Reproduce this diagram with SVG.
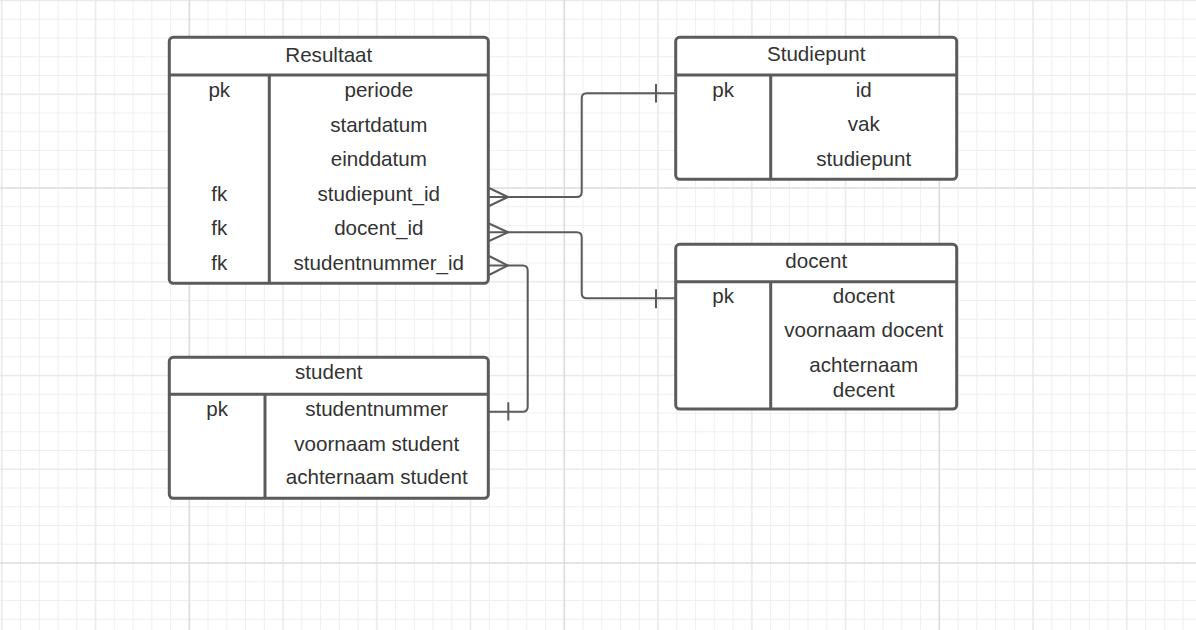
<svg xmlns="http://www.w3.org/2000/svg" width="1196" height="630" viewBox="0 0 1196 630">
<defs>
<style>
.box{fill:#ffffff;stroke:#5b5b5b;stroke-width:3}
.sep{fill:none;stroke:#5b5b5b;stroke-width:3}
.t{font-family:"Liberation Sans",Arial,sans-serif;font-size:20.6px;fill:#333333;text-anchor:middle}
.conn path{fill:none;stroke:#5b5b5b;stroke-width:2}
</style>
<pattern id="minor" patternUnits="userSpaceOnUse" x="-7.575" y="-8.875" width="18.75" height="18.75">
<path d="M9.375 0V18.75M0 9.375H18.75" stroke="#efefef" stroke-width="1" fill="none"/>
</pattern>
<pattern id="medium" patternUnits="userSpaceOnUse" x="-45.075" y="-46.375" width="93.75" height="93.75">
<path d="M46.875 0V93.75M0 46.875H93.75" stroke="#e5e5e5" stroke-width="1" fill="none"/>
</pattern>
</defs>
<g id="background">
<rect x="0" y="0" width="1196" height="630" fill="#ffffff"/>
<rect x="0" y="0" width="1196" height="630" fill="url(#minor)"/>
<rect x="0" y="0" width="1196" height="630" fill="url(#medium)"/>
<path d="M189.3 0V630M564.3 0V630M939.3 0V630M0 188H1196M0 563H1196" stroke="#dcdcdc" stroke-width="1.2" fill="none"/>
</g>
<g id="connectors" class="conn">
<path d="M489 197H576.7Q581.7 197 581.7 192V98.3Q581.7 93.3 586.7 93.3H675.7"/>
<path d="M489 188L508 197L489 206"/>
<path d="M656 84V102.5"/>
<path d="M489 232.3H576.7Q581.7 232.3 581.7 237.3V293.3Q581.7 298.3 586.7 298.3H675.7"/>
<path d="M489 223.5L508 232.3L489 241"/>
<path d="M656 289.3V308.3"/>
<path d="M489 265.5H522.7Q527.7 265.5 527.7 270.5V406.7Q527.7 411.7 522.7 411.7H488.3"/>
<path d="M489 256L508 265.5L489 275"/>
<path d="M508.3 402.3V420.5"/>
</g>
<g id="resultaat">
<rect class="box" x="169.3" y="37.3" width="319" height="246" rx="4"/>
<path class="sep" d="M169.3 75H488.3M269.3 75V283.3"/>
<text class="t" x="328.8" y="61.7">Resultaat</text>
<text class="t" x="219.3" y="96.7">pk</text>
<text class="t" x="378.8" y="96.7">periode</text>
<text class="t" x="378.8" y="131.5">startdatum</text>
<text class="t" x="378.8" y="166">einddatum</text>
<text class="t" x="219.3" y="200.7">fk</text>
<text class="t" x="378.8" y="200.7">studiepunt_id</text>
<text class="t" x="219.3" y="235">fk</text>
<text class="t" x="378.8" y="235">docent_id</text>
<text class="t" x="219.3" y="270">fk</text>
<text class="t" x="378.8" y="270">studentnummer_id</text>
</g>
<g id="studiepunt">
<rect class="box" x="675.7" y="37.3" width="281" height="142" rx="4"/>
<path class="sep" d="M675.7 75H956.7M770.7 75V179.3"/>
<text class="t" x="816.2" y="61">Studiepunt</text>
<text class="t" x="723.2" y="96.7">pk</text>
<text class="t" x="863.7" y="96.7">id</text>
<text class="t" x="863.7" y="131.3">vak</text>
<text class="t" x="863.7" y="166">studiepunt</text>
</g>
<g id="docent">
<rect class="box" x="675.7" y="244.3" width="281" height="164.7" rx="4"/>
<path class="sep" d="M675.7 281.7H956.7M770.7 281.7V409"/>
<text class="t" x="816.2" y="267.7">docent</text>
<text class="t" x="723.2" y="302.7">pk</text>
<text class="t" x="863.7" y="302.7">docent</text>
<text class="t" x="863.7" y="337.3">voornaam docent</text>
<text class="t" x="863.7" y="371.7">achternaam</text>
<text class="t" x="863.7" y="397.3">decent</text>
</g>
<g id="student">
<rect class="box" x="169.3" y="357.3" width="319" height="141" rx="4"/>
<path class="sep" d="M169.3 394.3H488.3M265 394.3V498.3"/>
<text class="t" x="328.8" y="379.3">student</text>
<text class="t" x="217.2" y="415.7">pk</text>
<text class="t" x="376.7" y="415.7">studentnummer</text>
<text class="t" x="376.7" y="450.7">voornaam student</text>
<text class="t" x="376.7" y="484.3">achternaam student</text>
</g>
</svg>
